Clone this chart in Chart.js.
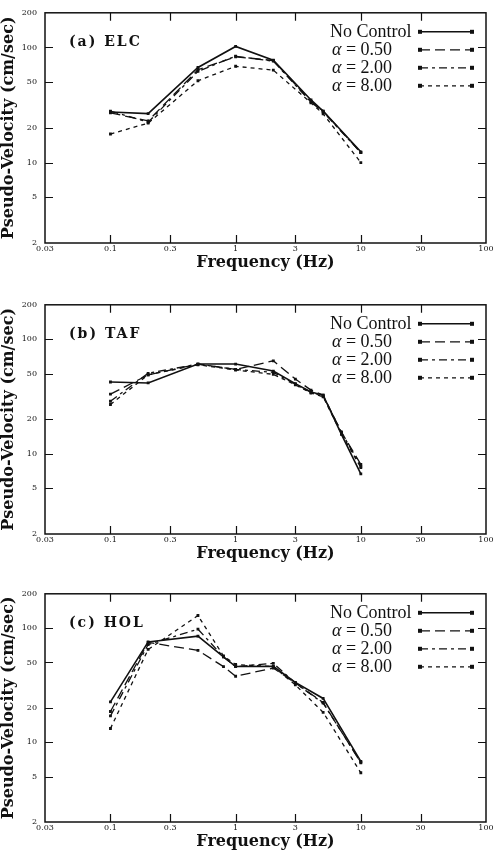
<!DOCTYPE html>
<html>
<head>
<meta charset="utf-8">
<script src="https://cdn.jsdelivr.net/npm/chart.js@4.4.1/dist/chart.umd.min.js"></script>
<style>
  body { margin: 0; background: #fff; }
  .panel { position: absolute; left: 0; }
</style>
</head>
<body>
<div class="panel" style="top:0"><canvas id="elc" width="496" height="273"></canvas></div>
<div class="panel" style="top:292px"><canvas id="taf" width="496" height="272"></canvas></div>
<div class="panel" style="top:581px"><canvas id="hol" width="496" height="271"></canvas></div>
<script>
// series names and axis ticks
const seriesNames = ['No Control', 'α = 0.50', 'α = 2.00', 'α = 8.00'];
const xTicks = [0.03, 0.1, 0.3, 1, 3, 10, 30, 100];
const yTicks = [2, 5, 10, 20, 50, 100, 200];

// (a) ELC
const elcFreq = [0.1, 0.2, 0.5, 1, 2, 4, 5, 10];
const elcNoControl = [27.5, 26.6, 67, 102, 77.5, 35, 28, 12.4];
const elcA050 = [27, 23, 64, 83, 77, 34, 28, 12.2];
const elcA200 = [28, 22.4, 62, 84, 76, 33.5, 27.5, 12.2];
const elcA800 = [17.7, 22, 51.4, 68.6, 63.5, 33, 26.5, 10];

// (b) TAF
const tafFreq = [0.1, 0.2, 0.5, 1, 2, 3, 4, 5, 7, 10];
const tafNoControl = [42.4, 41.6, 60.8, 60.8, 52.8, 41, 34.7, 32.6, 14.8, 6.7];
const tafA050 = [33.2, 48.9, 60.8, 54.6, 64.9, 45, 36, 32.6, 15.5, 8.1];
const tafA200 = [28.8, 50.5, 60.8, 54.6, 51.5, 40.5, 34.5, 32, 15.5, 7.8];
const tafA800 = [27, 49, 60, 54, 49.5, 40, 34, 31.5, 15, 7.6];

// (c) HOL
const holFreq = [0.1, 0.2, 0.5, 0.8, 1, 2, 3, 5, 10];
const holNoControl = [22.6, 75.7, 85, 56, 46.1, 46.3, 33.5, 24.2, 6.8];
const holA050 = [18.6, 75, 63.8, 46, 37.9, 44.7, 33, 22.3, 6.6];
const holA200 = [17, 71.8, 98, 56, 46, 49.2, 33, 22, 6.7];
const holA800 = [13.2, 65.1, 129, 57, 48, 46, 31.8, 18.3, 5.4];

const dashes = [[], [10, 5], [8, 4, 3, 4], [4, 4]];
const widths = [1.6, 1.3, 1.3, 1.3];
const xMarks = [0.1, 0.3, 1, 3, 10, 30];
const yMarks = [5, 10, 20, 50, 100];
const ink = '#111';

// рамка, внутренние засечки, подпись панели и легенда
const decor = {
  id: 'decor',
  afterDraw(chart) {
    const { ctx, chartArea: a, scales: { x, y } } = chart;
    ctx.save();
    ctx.strokeStyle = ink;
    ctx.lineWidth = 1.5;
    ctx.strokeRect(a.left, a.top, a.right - a.left, a.bottom - a.top);

    ctx.lineWidth = 1.2;
    ctx.beginPath();
    xMarks.forEach(v => {
      const px = Math.round(x.getPixelForValue(v)) + 0.5;
      ctx.moveTo(px, a.bottom); ctx.lineTo(px, a.bottom - 8);
      ctx.moveTo(px, a.top); ctx.lineTo(px, a.top + 8);
    });
    yMarks.forEach(v => {
      const py = Math.round(y.getPixelForValue(v)) + 0.5;
      ctx.moveTo(a.left, py); ctx.lineTo(a.left + 8, py);
      ctx.moveTo(a.right, py); ctx.lineTo(a.right - 8, py);
    });
    ctx.stroke();

    // подпись панели
    ctx.fillStyle = ink;
    ctx.textBaseline = 'middle';
    ctx.font = 'bold 14px "DejaVu Serif"';
    ctx.letterSpacing = '2px';
    ctx.fillText(chart.options.panelLabel, 69, a.top + 30);
    ctx.letterSpacing = '0px';

    // легенда
    chart.data.datasets.forEach((ds, i) => {
      const ly = a.top + 19 + i * 18;
      let tx = 330;
      const name = ds.label;
      if (name.startsWith('α')) {
        ctx.font = 'italic 18px "Liberation Serif"';
        ctx.fillText('α', tx + 2, ly);
        tx += 2 + ctx.measureText('α').width;
        ctx.font = '18px "Liberation Serif"';
        ctx.fillText(name.slice(1), tx, ly);
      } else {
        ctx.font = '18px "Liberation Serif"';
        ctx.fillText(name, tx, ly);
      }
      ctx.setLineDash(ds.borderDash || []);
      ctx.lineWidth = ds.borderWidth;
      ctx.beginPath();
      ctx.moveTo(420, ly); ctx.lineTo(472, ly);
      ctx.stroke();
      ctx.setLineDash([]);
      ctx.fillRect(418, ly - 2, 4, 4);
      ctx.fillRect(470, ly - 2, 4, 4);
    });
    ctx.restore();
  }
};

function makeChart(id, label, freq, series) {
  const datasets = series.map((vals, i) => ({
    label: seriesNames[i],
    data: freq.map((f, k) => ({ x: f, y: vals[k] })),
    borderColor: ink,
    backgroundColor: ink,
    borderWidth: widths[i],
    borderDash: dashes[i],
    pointStyle: 'rect',
    pointRadius: 2,
    pointBorderWidth: 0,
    pointBackgroundColor: ink,
    tension: 0
  }));

  new Chart(document.getElementById(id), {
    type: 'line',
    data: { datasets },
    options: {
      panelLabel: label,
      responsive: false,
      animation: false,
      layout: { padding: { top: 6, right: 10, left: 0, bottom: 0 } },
      plugins: { legend: { display: false }, tooltip: { enabled: false } },
      scales: {
        x: {
          type: 'logarithmic',
          min: 0.03,
          max: 100,
          grid: { display: false, drawTicks: false, tickLength: 0 },
          border: { display: false },
          afterBuildTicks: s => { s.ticks = xTicks.map(v => ({ value: v })); },
          afterFit: s => { s.height = 30; },
          ticks: {
            autoSkip: false,
            maxRotation: 0,
            padding: 1,
            color: ink,
            font: { family: '"DejaVu Serif"', size: 8 },
            callback: v => String(v)
          },
          title: {
            display: true,
            text: 'Frequency (Hz)',
            color: ink,
            font: { family: '"DejaVu Serif"', size: 16, weight: 'bold' },
            padding: { top: 0, bottom: 1 }
          }
        },
        y: {
          type: 'logarithmic',
          min: 2,
          max: 200,
          grid: { display: false, drawTicks: false, tickLength: 0 },
          border: { display: false },
          afterBuildTicks: s => { s.ticks = yTicks.map(v => ({ value: v })); },
          afterFit: s => { s.width = 45; },
          ticks: {
            autoSkip: false,
            padding: 8,
            color: ink,
            font: { family: '"DejaVu Serif"', size: 8 },
            callback: v => String(v)
          },
          title: {
            display: true,
            text: 'Pseudo-Velocity (cm/sec)',
            color: ink,
            font: { family: '"DejaVu Serif"', size: 16, weight: 'bold' },
            padding: { top: -1, bottom: 0 }
          }
        }
      }
    },
    plugins: [decor]
  });
}

makeChart('elc', '(a) ELC', elcFreq, [elcNoControl, elcA050, elcA200, elcA800]);
makeChart('taf', '(b) TAF', tafFreq, [tafNoControl, tafA050, tafA200, tafA800]);
makeChart('hol', '(c) HOL', holFreq, [holNoControl, holA050, holA200, holA800]);
</script>
</body>
</html>
